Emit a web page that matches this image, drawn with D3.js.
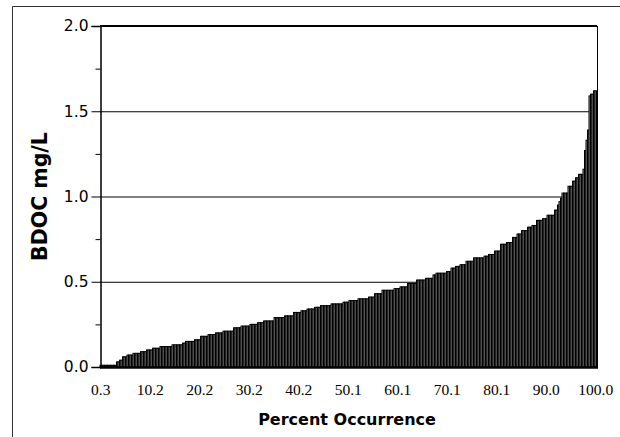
<!DOCTYPE html>
<html lang="en">
<head>
    <meta charset="UTF-8">
    <title>BDOC</title>
    <style>
        body { margin: 0; background: #fff; }
    </style>
</head>
<body>
<script src="https://cdn.jsdelivr.net/npm/d3@7/dist/d3.min.js"></script>
<script>

    // BDOC values (mg/L), sorted ascending, one per sample
    var bdoc = [
        0.01, 0.01, 0.01, 0.01, 0.01, 0.01, 0.01, 0.01, 0.01, 0.01, 0.01,
        0.03, 0.03, 0.04, 0.04, 0.06, 0.06, 0.06, 0.07, 0.07, 0.07, 0.07,
        0.08, 0.08, 0.08, 0.08, 0.08, 0.09, 0.09, 0.09, 0.09, 0.10, 0.10, 0.10, 0.10,
        0.11, 0.11, 0.11, 0.11, 0.11, 0.12, 0.12, 0.12, 0.12, 0.12, 0.12, 0.12, 0.12,
        0.13, 0.13, 0.13, 0.13, 0.13, 0.13, 0.13, 0.14, 0.14, 0.15, 0.15, 0.15, 0.15, 0.15, 0.15,
        0.16, 0.16, 0.16, 0.16, 0.18, 0.18, 0.18, 0.18, 0.18, 0.19, 0.19, 0.19, 0.19, 0.19,
        0.20, 0.20, 0.20, 0.20, 0.20, 0.21, 0.21, 0.21, 0.21, 0.21, 0.21, 0.21,
        0.23, 0.23, 0.23, 0.23, 0.23, 0.24, 0.24, 0.24, 0.24, 0.24, 0.24,
        0.25, 0.25, 0.25, 0.25, 0.25, 0.26, 0.26, 0.26, 0.26,
        0.27, 0.27, 0.27, 0.27, 0.27, 0.27, 0.27, 0.29, 0.29, 0.29, 0.29, 0.29, 0.29, 0.29,
        0.30, 0.30, 0.30, 0.30, 0.30, 0.30, 0.32, 0.32, 0.32, 0.32, 0.32,
        0.33, 0.33, 0.33, 0.33, 0.34, 0.34, 0.34, 0.34, 0.34, 0.35, 0.35, 0.35, 0.35,
        0.36, 0.36, 0.36, 0.36, 0.36, 0.36, 0.36, 0.37, 0.37, 0.37, 0.37, 0.37, 0.37, 0.37, 0.37,
        0.38, 0.38, 0.38, 0.38, 0.39, 0.39, 0.39, 0.39, 0.39, 0.39,
        0.40, 0.40, 0.40, 0.40, 0.40, 0.40, 0.40, 0.41, 0.41, 0.41, 0.41,
        0.43, 0.43, 0.43, 0.43, 0.43, 0.45, 0.45, 0.45, 0.45, 0.45, 0.45, 0.45, 0.45,
        0.46, 0.46, 0.46, 0.46, 0.47, 0.47, 0.47, 0.47, 0.47,
        0.49, 0.49, 0.49, 0.49, 0.49, 0.49, 0.51, 0.51, 0.51, 0.51, 0.51, 0.51,
        0.52, 0.52, 0.52, 0.52, 0.52, 0.54, 0.54, 0.55, 0.55, 0.55, 0.55, 0.55, 0.55, 0.55,
        0.56, 0.56, 0.56, 0.58, 0.58, 0.58, 0.59, 0.59, 0.59, 0.60, 0.60, 0.60, 0.60,
        0.62, 0.62, 0.62, 0.62, 0.62, 0.64, 0.64, 0.64, 0.64, 0.64, 0.64, 0.64,
        0.65, 0.65, 0.65, 0.66, 0.66, 0.66, 0.66, 0.68, 0.68, 0.68, 0.68,
        0.72, 0.72, 0.72, 0.72, 0.73, 0.73, 0.73, 0.73, 0.76, 0.76, 0.76, 0.78, 0.78, 0.78,
        0.80, 0.80, 0.80, 0.80, 0.82, 0.82, 0.82, 0.83, 0.83, 0.83,
        0.86, 0.86, 0.86, 0.86, 0.87, 0.87, 0.87, 0.89, 0.89, 0.89, 0.89, 0.89,
        0.92, 0.92, 0.95, 0.97, 0.99, 1.02, 1.02, 1.02, 1.02, 1.06, 1.06, 1.06,
        1.09, 1.09, 1.11, 1.11, 1.13, 1.13, 1.13, 1.16, 1.27, 1.33, 1.39,
        1.59, 1.60, 1.60, 1.62, 1.62
    ];

    // x axis labels (percent occurrence), every 33rd sample
    var xTickLabels = ["0.3", "10.2", "20.2", "30.2", "40.2", "50.1", "60.1", "70.1", "80.1", "90.0", "100.0"];
    var tickEvery = 33;

    var yTicks = [0, 0.5, 1.0, 1.5, 2.0];
    var yMinorTicks = [0.25, 0.75, 1.25, 1.75];
    var gridValues = [0.5, 1.0, 1.5];

    var width = 620, height = 437;
    var plotLeft = 100, plotRight = 597, plotTop = 26, plotBottom = 367;

    var svg = d3.select("body").append("svg")
        .attr("width", width)
        .attr("height", height);

    // outer frame (open at right and bottom)
    svg.append("path")
        .attr("d", "M12.5," + height + "V6.5H" + width)
        .attr("fill", "none")
        .attr("stroke", "#333")
        .attr("stroke-width", 1);

    var x = d3.scaleBand()
        .domain(d3.range(bdoc.length))
        .range([plotLeft, plotLeft + bdoc.length * 1.5])
        .padding(0);

    var y = d3.scaleLinear()
        .domain([0, 2])
        .range([plotBottom, plotTop]);

    // gridlines behind bars
    svg.append("g").selectAll("line")
        .data(gridValues)
        .enter()
        .append("line")
        .attr("x1", plotLeft)
        .attr("x2", plotRight)
        .attr("y1", function(d){ return y(d) + 0.5; })
        .attr("y2", function(d){ return y(d) + 0.5; })
        .attr("stroke", "#000")
        .attr("stroke-width", 1);

    // bars
    svg.append("g").selectAll("rect")
        .data(bdoc)
        .enter()
        .append("rect")
        .attr("x", function(d, i){ return x(i); })
        .attr("y", function(d){ return y(d); })
        .attr("width", x.bandwidth())
        .attr("height", function(d){ return plotBottom - y(d); })
        .attr("fill", "#9a9a9a")
        .attr("stroke", "#000")
        .attr("stroke-width", 1);

    // frame of the plot
    svg.append("line")
        .attr("x1", plotLeft).attr("x2", plotRight)
        .attr("y1", plotTop).attr("y2", plotTop)
        .attr("stroke", "#000").attr("stroke-width", 2);
    svg.append("line")
        .attr("x1", plotRight + 0.5).attr("x2", plotRight + 0.5)
        .attr("y1", plotTop).attr("y2", plotBottom)
        .attr("stroke", "#000").attr("stroke-width", 1);
    svg.append("line")
        .attr("x1", plotLeft).attr("x2", plotRight + 1)
        .attr("y1", plotBottom + 0.5).attr("y2", plotBottom + 0.5)
        .attr("stroke", "#000").attr("stroke-width", 2.5);

    // y axis
    var yAxis = d3.axisLeft(y)
        .tickValues(yTicks)
        .tickFormat(d3.format(".1f"))
        .tickSize(9)
        .tickPadding(3);

    var gy = svg.append("g")
        .attr("transform", "translate(" + (plotLeft + 0.5) + ",0)")
        .call(yAxis);
    gy.select(".domain").attr("stroke-width", 1.5);
    gy.selectAll("text")
        .style("font-family", "'DejaVu Sans', sans-serif")
        .style("font-size", "15.5px")
        .attr("fill", "#000");

    gy.selectAll(".minor")
        .data(yMinorTicks)
        .enter()
        .append("line")
        .attr("class", "minor")
        .attr("x1", -5)
        .attr("x2", 0)
        .attr("y1", function(d){ return y(d) + 0.5; })
        .attr("y2", function(d){ return y(d) + 0.5; })
        .attr("stroke", "#000");

    // x axis labels, no tick marks
    var xAxis = d3.axisBottom(x)
        .tickValues(xTickLabels.map(function(d, i){ return i * tickEvery; }))
        .tickFormat(function(d, i){ return xTickLabels[i]; })
        .tickSize(0)
        .tickPadding(17);

    var gx = svg.append("g")
        .attr("transform", "translate(0," + plotBottom + ")")
        .call(xAxis);
    gx.select(".domain").remove();
    gx.selectAll("text")
        .style("font-family", "'Liberation Serif', 'Times New Roman', serif")
        .style("font-size", "15.5px")
        .attr("fill", "#000");

    // axis titles
    svg.append("text")
        .attr("x", 347)
        .attr("y", 425)
        .attr("text-anchor", "middle")
        .style("font-family", "'DejaVu Sans', sans-serif")
        .style("font-weight", "bold")
        .style("font-size", "16px")
        .text("Percent Occurrence");

    svg.append("text")
        .attr("transform", "translate(47," + ((plotTop + plotBottom) / 2) + ") rotate(-90)")
        .attr("text-anchor", "middle")
        .style("font-family", "'DejaVu Sans', sans-serif")
        .style("font-weight", "bold")
        .style("font-size", "20.5px")
        .text("BDOC mg/L");

</script>
</body>
</html>
